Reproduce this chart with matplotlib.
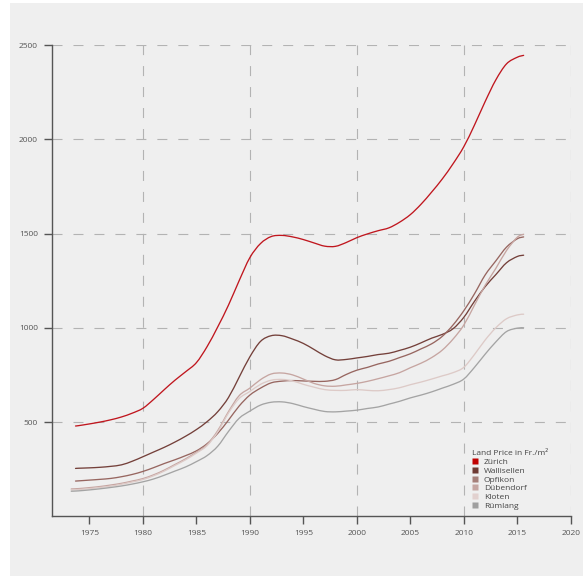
import matplotlib
matplotlib.use("Agg")
import matplotlib.pyplot as plt
from matplotlib.lines import Line2D
from matplotlib.patches import Rectangle, PathPatch
from matplotlib.path import Path

plt.rcParams['font.family'] = ['Open Sans', 'DejaVu Sans']
plt.rcParams['lines.scale_dashes'] = False

# ---------------- data (Land price in Fr./m2) ----------------
years = [1974, 1975, 1976, 1977, 1978, 1979, 1980, 1981, 1982, 1983, 1984,
         1985, 1986, 1987, 1988, 1989, 1990, 1991, 1992, 1993, 1994, 1995,
         1996, 1997, 1998, 1999, 2000, 2001, 2002, 2003, 2004, 2005, 2006,
         2007, 2008, 2009, 2010, 2011, 2012, 2013, 2014, 2015, 2015.6]

start_zurich = [1973.7, 479]
zurich = [481, 490, 500, 512, 527, 547, 573, 620, 672, 722, 767,
          815, 900, 1005, 1120, 1250, 1372, 1447, 1484, 1490, 1482, 1468,
          1450, 1433, 1432, 1452, 1478, 1498, 1515, 1530, 1560, 1600, 1655,
          1720, 1790, 1870, 1960, 2075, 2200, 2315, 2400, 2435, 2445]

start_wallisellen = [1973.7, 254]
wallisellen = [255, 257, 260, 265, 273, 292, 316, 341, 366, 394, 425,
               460, 502, 555, 630, 738, 846, 928, 958, 958, 940, 917,
               885, 852, 830, 832, 840, 848, 858, 865, 880, 897, 920,
               945, 965, 995, 1055, 1140, 1218, 1282, 1345, 1378, 1385]

start_opfikon = [1973.7, 187]
opfikon = [188, 192, 196, 201, 210, 222, 238, 258, 280, 300, 322,
           347, 385, 440, 510, 585, 643, 680, 708, 717, 720, 718,
           716, 716, 725, 752, 775, 790, 808, 822, 842, 862, 888,
           915, 955, 1015, 1090, 1180, 1280, 1355, 1428, 1472, 1482]

start_duebendorf = [1973.3, 145]
duebendorf = [147, 152, 158, 166, 175, 187, 200, 220, 245, 275, 305,
              340, 380, 455, 555, 640, 680, 725, 755, 760, 750, 728,
              705, 692, 690, 697, 705, 716, 730, 745, 762, 788, 812,
              842, 882, 940, 1014, 1120, 1225, 1315, 1410, 1480, 1496]

start_kloten = [1973.3, 140]
kloten = [142, 147, 153, 160, 170, 182, 195, 215, 240, 270, 300,
          335, 375, 448, 548, 625, 662, 700, 722, 726, 718, 700,
          685, 672, 668, 668, 672, 668, 666, 672, 682, 698, 712,
          728, 745, 762, 790, 858, 935, 1000, 1048, 1068, 1072]

start_ruemlang = [1973.3, 133]
ruemlang = [135, 140, 146, 153, 161, 171, 183, 198, 218, 240, 262,
            290, 322, 372, 450, 520, 558, 590, 605, 607, 598, 582,
            568, 556, 554, 558, 563, 572, 580, 595, 610, 628, 643,
            660, 680, 700, 728, 790, 860, 925, 980, 998, 1000]

names = ['Zürich', 'Wallisellen', 'Opfikon', 'Dübendorf', 'Kloten', 'Rümlang']
starts = [start_zurich, start_wallisellen, start_opfikon, start_duebendorf,
          start_kloten, start_ruemlang]
series = [zurich, wallisellen, opfikon, duebendorf, kloten, ruemlang]
line_colors = ['#c0161e', '#74403a', '#976660', '#c6a5a1', '#ddcac7', '#a4a4a4']
legend_colors = ['#c00000', '#6e3a33', '#a6807a', '#c5a6a2', '#e2d1cf', '#a0a0a0']

x_ticks = [1975, 1980, 1985, 1990, 1995, 2000, 2005, 2010, 2015, 2020]
y_ticks = [500, 1000, 1500, 2000, 2500]
x_grid = [1980, 1990, 2000, 2010, 2020]


def smooth_path(xs, ys):
    """Bezier path passing through every data point (Catmull-Rom tangents)."""
    pts = list(zip(xs, ys))
    n = len(pts)
    verts = [pts[0]]
    codes = [Path.MOVETO]
    for i in range(n - 1):
        p0 = pts[i - 1] if i > 0 else pts[i]
        p1 = pts[i]
        p2 = pts[i + 1]
        p3 = pts[i + 2] if i + 2 < n else pts[i + 1]
        c1 = (p1[0] + (p2[0] - p0[0]) / 6, p1[1] + (p2[1] - p0[1]) / 6)
        c2 = (p2[0] - (p3[0] - p1[0]) / 6, p2[1] - (p3[1] - p1[1]) / 6)
        verts += [c1, c2, p2]
        codes += [Path.CURVE4] * 3
    return Path(verts, codes)


# ---------------- figure ----------------
W, H = 583, 576
fig = plt.figure(figsize=(W / 100, H / 100), dpi=100, facecolor='white')
bg = Rectangle((10 / W, 0), 1 - 10 / W, 1 - 3 / H,
               transform=fig.transFigure, facecolor='#efefef',
               edgecolor='none', zorder=-10)
fig.add_artist(bg)

ax = fig.add_axes([52 / W, 1 - 516.3 / H, (570.7 - 52) / W, (516.3 - 45) / H])
ax.set_zorder(1)
ax.set_facecolor('none')
ax.set_xlim(1971.5, 2020)
ax.set_ylim(0, 2500)

grid_kw = dict(color='#b3b3b3', linewidth=0.8, dashes=(7.2, 7.9), zorder=1)
for gy in y_ticks:
    ax.axhline(gy, **grid_kw)
for gx in x_grid:
    ax.axvline(gx, **grid_kw)

for name, st, vals, c in zip(names, starts, series, line_colors):
    path = smooth_path([st[0]] + years, [st[1]] + vals)
    ax.add_patch(PathPatch(path, facecolor='none', edgecolor=c,
                           linewidth=0.95, capstyle='round', zorder=3))

for s in ['top', 'right']:
    ax.spines[s].set_visible(False)
for s in ['left', 'bottom']:
    ax.spines[s].set_color('#555555')
    ax.spines[s].set_linewidth(1.0)

ax.set_xticks(x_ticks)
ax.set_yticks(y_ticks)
ax.tick_params(axis='both', direction='out', length=6, width=1.0,
               color='#555555', labelsize=6, labelcolor='#555555', pad=4)

handles = [Line2D([], [], marker='s', linestyle='none', markersize=3.8,
                  markerfacecolor=c, markeredgecolor='none') for c in legend_colors]
leg = fig.legend(handles, names, title='Land Price in Fr./m²',
                 loc='upper left', bbox_to_anchor=(472 / W, 1 - 450 / H),
                 frameon=False, fontsize=6, title_fontsize=6,
                 handlelength=0.8, handletextpad=0.6, labelspacing=0.12,
                 borderpad=0, borderaxespad=0)
leg.set_zorder(5)
leg._legend_box.align = 'left'
for t in leg.get_texts():
    t.set_color('#444444')
leg.get_title().set_color('#444444')

fig.savefig('out.png', dpi=100, facecolor=fig.get_facecolor())
